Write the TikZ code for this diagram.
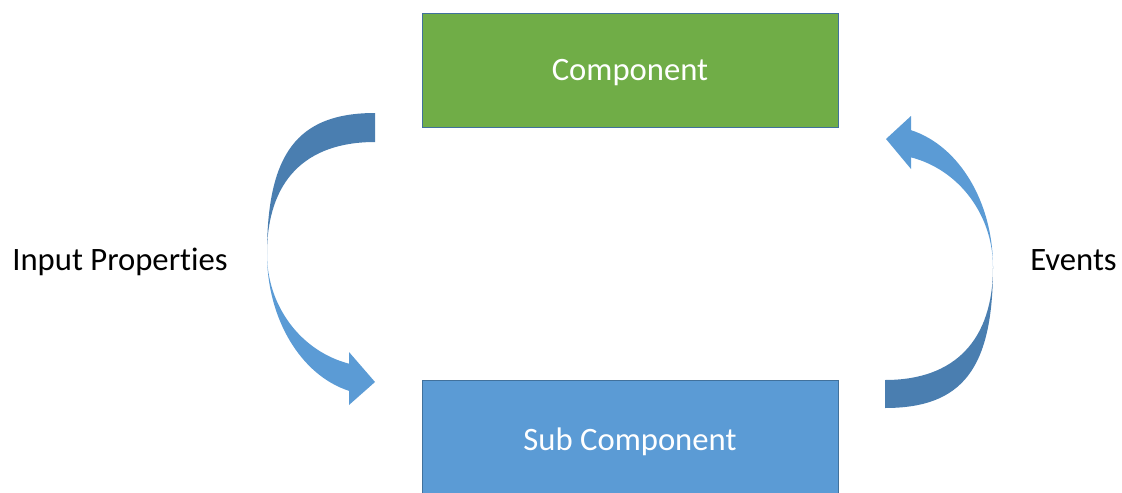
\documentclass[tikz,border=0pt]{standalone}
\usepackage{fontspec}
\setmainfont[Ligatures=CommonOff]{Carlito}
\definecolor{compgreen}{HTML}{70AD47}
\definecolor{subblue}{HTML}{5B9BD5}
\definecolor{edgeblue}{HTML}{41719C}
\definecolor{backblue}{HTML}{4A7EB0}
\begin{document}
\begin{tikzpicture}[x=0.75pt,y=0.75pt,inner sep=0pt,outer sep=0pt,
compbox/.style={draw=edgeblue,line width=0.75pt,rectangle,minimum width=312pt,minimum height=85.5pt,text=white,text height=22pt,text depth=7pt,font=\fontsize{24.5}{29}\selectfont},
sidetext/.style={anchor=base,font=\fontsize{24.5}{29}\selectfont}]
\useasboundingbox (0,0) rectangle (1122,-493);
\draw (630,-70) node[compbox,fill=compgreen] (comp) {Component};
\draw (630,-440) node[compbox,fill=subblue,minimum height=90pt] (sub) {Sub Component};
\coordinate (lc) at (375,-254);
\coordinate (rc) at (885,-267);
\fill[backblue,shift={(lc)}] (0,141) .. controls (-78,141) and (-108,100) .. (-108,0)
  .. controls (-108,73) and (-70,112) .. (0,112) -- cycle;
\fill[subblue,shift={(lc)}] (180:108 and 141) arc[start angle=180,end angle=256.07,x radius=108,y radius=141]
  -- (-26,-151) -- (0,-128) -- (-26,-98) -- (256.07:108 and 113)
  arc[start angle=256.07,end angle=180,x radius=108,y radius=113] -- cycle;
\fill[backblue,shift={(rc)}] (0,-141) .. controls (78,-141) and (108,-101) .. (108,0)
  .. controls (108,-73) and (70,-113) .. (0,-113) -- cycle;
\fill[subblue,shift={(rc)}] (0:108 and 141) arc[start angle=0,end angle=76.07,x radius=108,y radius=141]
  -- (26,151) -- (1,128) -- (26,98) -- (76.07:108 and 113)
  arc[start angle=76.07,end angle=0,x radius=108,y radius=113] -- cycle;
\draw (120,-270) node[sidetext] (inprops) {Input Properties};
\draw (1073.5,-270) node[sidetext] (events) {Events};
\end{tikzpicture}
\end{document}
